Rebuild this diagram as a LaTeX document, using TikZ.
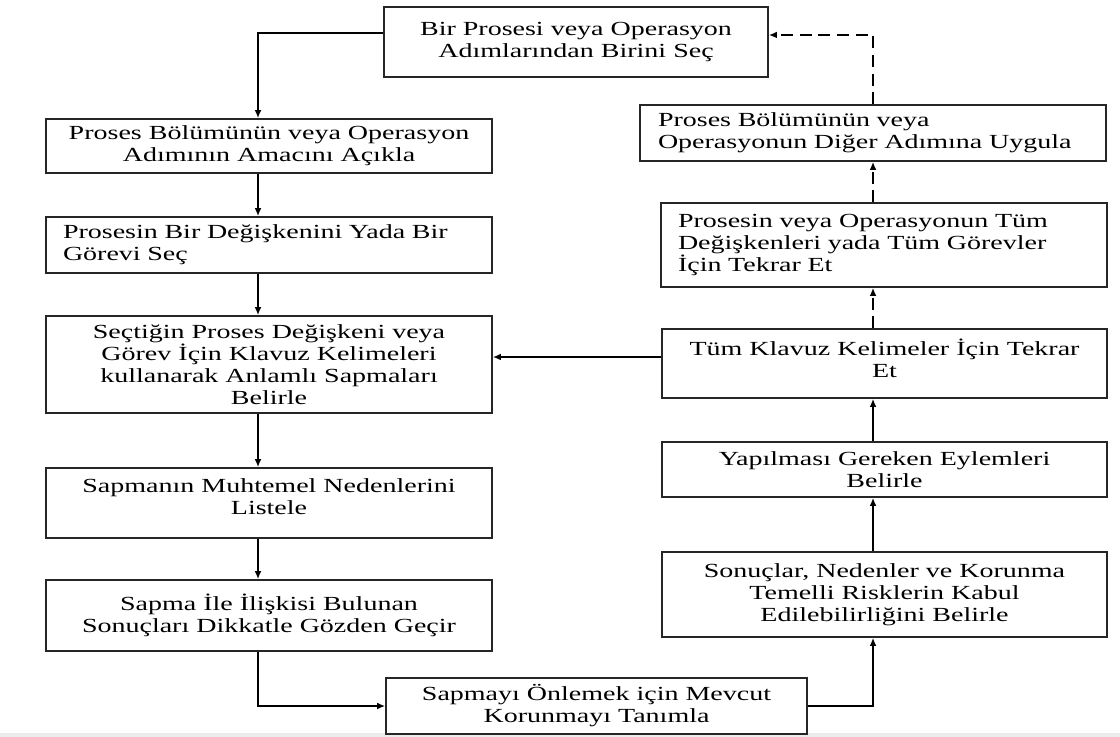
\documentclass[tikz,border=0pt]{standalone}
\usepackage{fontspec}
\setmainfont{Liberation Serif}[FakeStretch=1.4]
\usetikzlibrary{arrows.meta}
\begin{document}
\begin{tikzpicture}[x=0.75pt,y=-0.75pt]
\tikzset{
  box/.style={draw=black!85, line width=1.2pt, fill=white, inner sep=0pt, align=center,
    font=\fontsize{15}{16.5}\selectfont},
  lbox/.style={box, align=left},
  arr/.style={line width=1.3pt, -{Latex[length=6pt,width=5pt]}},
  darr/.style={arr, line width=2pt, dash pattern=on 9pt off 5pt},
}
\useasboundingbox (0,0) rectangle (1120,737);
\fill[black!8] (0,733) rectangle (1120,737);

% left column
\node[box, minimum width=288pt, minimum height=52.5pt] (B1) at (576,42)
  {Bir Prosesi veya Operasyon\\Adımlarından Birini Seç};
\node[box, minimum width=334.5pt, minimum height=40.5pt] (B2) at (269,146)
  {Proses Bölümünün veya Operasyon\\Adımının Amacını Açıkla};
\node[lbox, text width=309pt, inner xsep=12.75pt, minimum height=42pt] (B3) at (269,245)
  {\makebox[\linewidth][s]{Prosesin Bir Değişkenini Yada Bir}\\Görevi Seç};
\node[box, minimum width=334.5pt, minimum height=72.75pt] (B4) at (269,364.5)
  {Seçtiğin Proses Değişkeni veya\\Görev İçin Klavuz Kelimeleri\\kullanarak Anlamlı Sapmaları\\Belirle};
\node[box, minimum width=334.5pt, minimum height=52.5pt, text depth=9pt] (B5) at (269,503)
  {Sapmanın Muhtemel Nedenlerini\\Listele};
\node[box, minimum width=334.5pt, minimum height=53.25pt] (B6) at (269,615.5)
  {Sapma İle İlişkisi Bulunan\\Sonuçları Dikkatle Gözden Geçir};
\node[box, minimum width=315.75pt, minimum height=42pt] (B7) at (596.5,706)
  {Sapmayı Önlemek için Mevcut\\Korunmayı Tanımla};

% right column
\node[box, minimum width=333.75pt, minimum height=63.75pt] (B8) at (884.5,594.5)
  {Sonuçlar, Nedenler ve Korunma\\Temelli Risklerin Kabul\\Edilebilirliğini Belirle};
\node[box, minimum width=333.75pt, minimum height=41.25pt] (B9) at (884.5,469.5)
  {Yapılması Gereken Eylemleri\\Belirle};
\node[box, minimum width=333.75pt, minimum height=51.75pt, text depth=8pt] (B10) at (884.5,363.5)
  {Tüm Klavuz Kelimeler İçin Tekrar\\Et};
\node[lbox, text width=309pt, inner xsep=12.75pt, minimum height=63pt] (B11) at (884,245)
  {Prosesin veya Operasyonun Tüm\\Değişkenleri yada Tüm Görevler\\İçin Tekrar Et};
\node[lbox, text width=322.5pt, inner xsep=13.5pt, minimum height=42pt] (B12) at (873,133)
  {Proses Bölümünün veya\\Operasyonun Diğer Adımına Uygula};

% helper coordinates
\coordinate (c1) at (258,33);
\coordinate (c2) at (873,35);
\coordinate (c3) at (0,357);

% solid connectors
\draw[arr] (B1.west |- c1) -- (c1) -- (c1 |- B2.north);
\draw[arr] (c1 |- B2.south) -- (c1 |- B3.north);
\draw[arr] (c1 |- B3.south) -- (c1 |- B4.north);
\draw[arr] (c1 |- B4.south) -- (c1 |- B5.north);
\draw[arr] (c1 |- B5.south) -- (c1 |- B6.north);
\draw[arr] (c1 |- B6.south) |- (B7.west);
\draw[arr] (B7.east) -| (c2 |- B8.south);
\draw[arr] (c2 |- B8.north) -- (c2 |- B9.south);
\draw[arr] (c2 |- B9.north) -- (c2 |- B10.south);
\draw[arr] (B10.west |- c3) -- (B4.east |- c3);

% dashed connectors
\draw[darr] (c2 |- B10.north) -- (c2 |- B11.south);
\draw[darr] (c2 |- B11.north) -- (c2 |- B12.south);
\draw[darr] (c2 |- B12.north) -- (c2) -- (B1.east |- c2);
\end{tikzpicture}
\end{document}
